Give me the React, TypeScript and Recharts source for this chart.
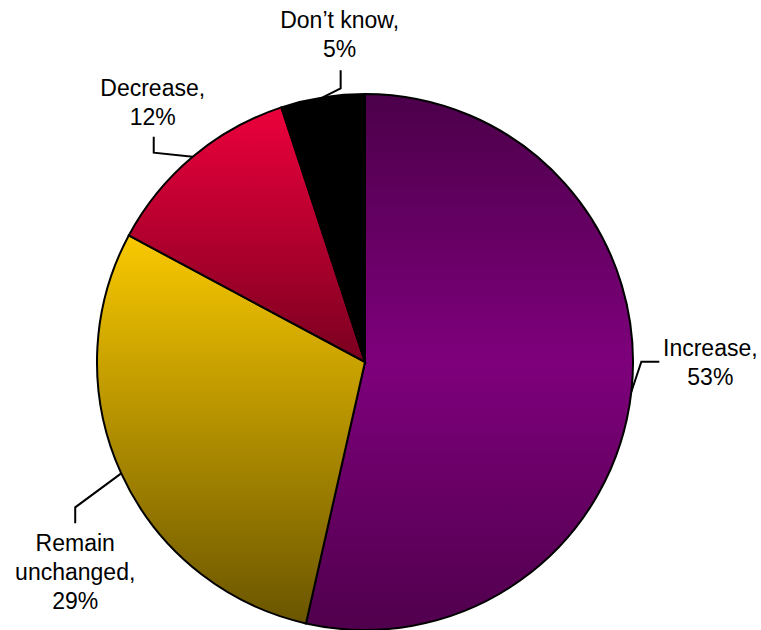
import React from "react";
import { PieChart, Pie, Cell } from "recharts";

const categories = ["Increase", "Remain unchanged", "Decrease", "Don\u2019t know"];
const shares = [53, 29, 12, 5];
// label text lines, one array per slice
const labelLines = [
  ["Increase,", "53%"],
  ["Remain", "unchanged,", "29%"],
  ["Decrease,", "12%"],
  ["Don\u2019t know,", "5%"],
];
const gradientIds = ["gInc", "gRem", "gDec", "gDk"];

const data = categories.map((name, i) => ({ name, value: shares[i] }));

// leader-line elbow / end / text offsets from the slice edge point
const labelLayout = [
  { elbow: [10, -30], end: [28, -30], tx: 79, ty: -36 },
  { elbow: [-46, 34], end: [-46, 50], tx: -46, ty: 78 },
  { elbow: [-39, -4], end: [-39, -20], tx: -40, ty: -61 },
  { elbow: [18, -9], end: [18, -27], tx: 17, ty: -69 },
];

const RADIAN = Math.PI / 180;
const LINE_H = 29;

const renderLabel = (props: any) => {
  const { cx, cy, midAngle, outerRadius, index } = props;
  const ex = cx + outerRadius * Math.cos(-midAngle * RADIAN);
  const ey = cy + outerRadius * Math.sin(-midAngle * RADIAN);
  const l = labelLayout[index];
  const pts = `${ex},${ey} ${ex + l.elbow[0]},${ey + l.elbow[1]} ${ex + l.end[0]},${ey + l.end[1]}`;
  return (
    <g key={`lbl-${index}`}>
      <polyline points={pts} fill="none" stroke="#000" strokeWidth={2} />
      <text
        x={ex + l.tx}
        y={ey + l.ty}
        textAnchor="middle"
        fill="#000"
        fontSize={23}
        fontFamily="'Liberation Sans', Arial, sans-serif"
      >
        {labelLines[index].map((t, k) => (
          <tspan key={k} x={ex + l.tx} dy={k === 0 ? 0 : LINE_H}>
            {t}
          </tspan>
        ))}
      </text>
    </g>
  );
};

export default function App() {
  return (
    <div style={{ position: "absolute", left: 0, top: 0, width: 761, height: 630, background: "#fff" }}>
      <PieChart width={761} height={630} margin={{ top: 0, right: 0, bottom: 0, left: 0 }}>
        <defs>
          <linearGradient id="gInc" x1="0" y1="0" x2="0" y2="1">
            <stop offset="0%" stopColor="#4c004a" />
            <stop offset="50%" stopColor="#7e007c" />
            <stop offset="100%" stopColor="#50004d" />
          </linearGradient>
          <linearGradient id="gRem" x1="0" y1="0" x2="0" y2="1">
            <stop offset="0%" stopColor="#f9c900" />
            <stop offset="100%" stopColor="#6a5500" />
          </linearGradient>
          <linearGradient id="gDec" x1="0" y1="0" x2="0" y2="1">
            <stop offset="0%" stopColor="#ec003c" />
            <stop offset="100%" stopColor="#7a0020" />
          </linearGradient>
          <linearGradient id="gDk" x1="0" y1="0" x2="0" y2="1">
            <stop offset="0%" stopColor="#000" />
            <stop offset="100%" stopColor="#000" />
          </linearGradient>
        </defs>
        <Pie
          data={data}
          dataKey="value"
          nameKey="name"
          cx={365}
          cy={362}
          outerRadius={268}
          startAngle={90}
          endAngle={-270}
          stroke="#000"
          strokeWidth={2}
          label={renderLabel}
          labelLine={false}
          isAnimationActive={false}
        >
          {data.map((d, i) => (
            <Cell key={d.name} fill={`url(#${gradientIds[i]})`} />
          ))}
        </Pie>
      </PieChart>
    </div>
  );
}
